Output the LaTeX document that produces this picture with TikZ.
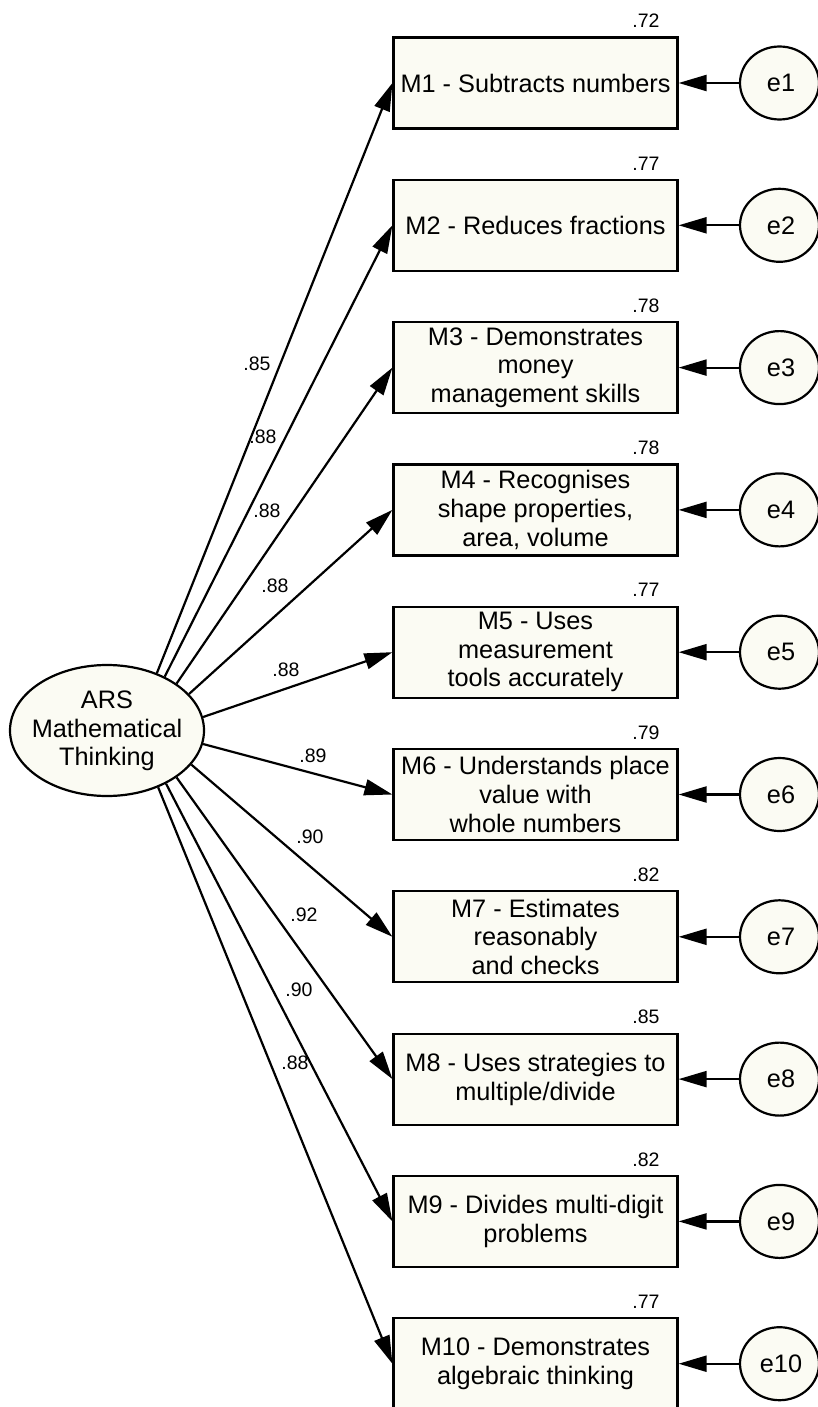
\documentclass[tikz,border=0pt]{standalone}
\usepackage{fontspec}
\setmainfont{Liberation Sans}
\usetikzlibrary{arrows.meta,shapes.geometric}
\definecolor{boxfill}{RGB}{251,251,243}
\tikzset{
  obs/.style={draw=black, line width=2.2pt, fill=boxfill, rectangle, minimum width=284pt, minimum height=91pt, inner sep=1pt, align=center, font=\fontsize{25.3}{28.7}\selectfont},
  latent/.style={draw=black, line width=2.2pt, fill=boxfill, ellipse, minimum width=194pt, minimum height=131pt, inner sep=0pt},
  errv/.style={draw=black, line width=2.2pt, fill=boxfill, ellipse, minimum width=79pt, minimum height=73pt, inner sep=0pt},
  ltext/.style={align=center, inner sep=0pt, font=\fontsize{25.3}{28.7}\selectfont},
  coef/.style={inner sep=0pt, font=\fontsize{19.5}{21}\selectfont},
  path/.style={line width=2.2pt, -{Triangle[length=28pt,width=16pt]}}
}
\begin{document}
\begin{tikzpicture}[x=1pt,y=-1pt]
\useasboundingbox (0,0) rectangle (818,1407);

% latent factor
\node[latent] (ars) at (107,730.5) {};
\node[ltext] (arstext) at (107,731) {ARS\\Mathematical\\Thinking};

% observed indicators
\node[obs] (m1) at (535.5,83.0) {M1 - Subtracts numbers};
\node[obs] (m2) at (535.5,225.3) {M2 - Reduces fractions};
\node[obs] (m3) at (535.5,367.6) {M3 - Demonstrates\\money\\management skills};
\node[obs] (m4) at (535.5,509.9) {M4 - Recognises\\shape properties,\\area, volume};
\node[obs] (m5) at (535.5,652.2) {M5 - Uses\\measurement\\tools accurately};
\node[obs] (m6) at (535.5,794.5) {M6 - Understands place\\value with\\whole numbers};
\node[obs] (m7) at (535.5,936.8) {M7 - Estimates\\reasonably\\and checks};
\node[obs] (m8) at (535.5,1079.1) {M8 - Uses strategies to\\multiple/divide};
\node[obs] (m9) at (535.5,1221.4) {M9 - Divides multi-digit\\problems};
\node[obs] (m10) at (535.5,1363.7) {M10 - Demonstrates\\algebraic thinking};

% error terms
\foreach \i/\y in {1/83.0,2/225.3,3/367.6,4/509.9,5/652.2,6/794.5,7/936.8,8/1079.1,9/1221.4,10/1363.7}{
  \node[errv] (e\i) at (779.5,\y) {};
  \node[ltext] (e\i text) at (781,\y) {e\i};
  \draw[path] (e\i.west) -- (m\i.east);
}

% squared multiple correlations
\node[coef] (r1) at (646,21.0) {.72};
\node[coef] (r2) at (646,163.3) {.77};
\node[coef] (r3) at (646,305.6) {.78};
\node[coef] (r4) at (646,447.9) {.78};
\node[coef] (r5) at (646,590.2) {.77};
\node[coef] (r6) at (646,732.5) {.79};
\node[coef] (r7) at (646,874.8) {.82};
\node[coef] (r8) at (646,1017.1) {.85};
\node[coef] (r9) at (646,1159.4) {.82};
\node[coef] (r10) at (646,1301.7) {.77};

% factor loadings
\draw[path] (ars.49) -- (m1.west);
\draw[path] (ars.43) -- (m2.west);
\draw[path] (ars.34.5) -- (m3.west);
\draw[path] (ars.24) -- (m4.west);
\draw[path] (ars.8) -- (m5.west);
\draw[path] (ars.-8.4) -- (m6.west);
\draw[path] (ars.-22.8) -- (m7.west);
\draw[path] (ars.-34) -- (m8.west);
\draw[path] (ars.-42.5) -- (m9.west);
\draw[path] (ars.-48.3) -- (m10.west);

\node[coef] (l1) at (257,364) {.85};
\node[coef] (l2) at (263,437) {.88};
\node[coef] (l3) at (267,511) {.88};
\node[coef] (l4) at (275,586) {.88};
\node[coef] (l5) at (286,670) {.88};
\node[coef] (l6) at (313,756) {.89};
\node[coef] (l7) at (310,837) {.90};
\node[coef] (l8) at (304,915) {.92};
\node[coef] (l9) at (299,990) {.90};
\node[coef] (l10) at (295,1063) {.88};
\end{tikzpicture}
\end{document}
